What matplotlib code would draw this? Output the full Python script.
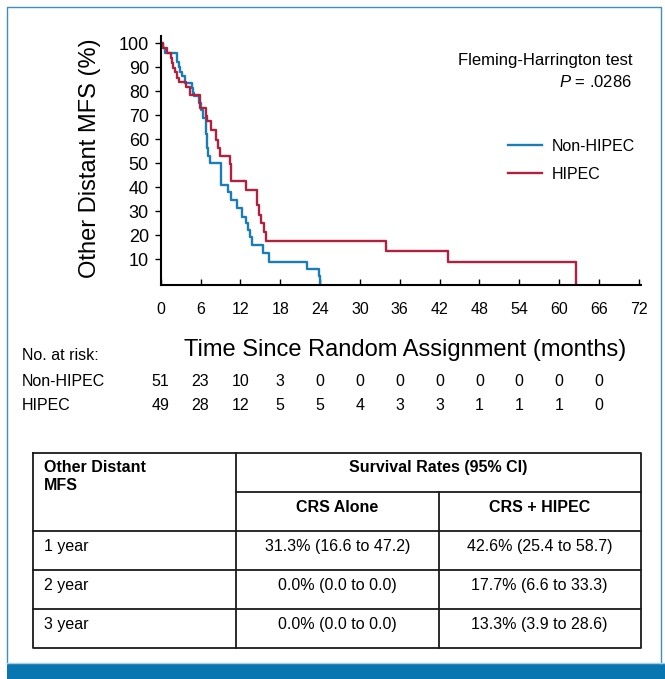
import numpy as np
import matplotlib
matplotlib.use("Agg")
import matplotlib.pyplot as plt
import matplotlib.transforms as mtransforms

# ----------------------------
# DATA
# ----------------------------
# Non-HIPEC step curve: time (months), survival (%)
nonhipec_t = [0, 0.4, 0.6, 2.5, 2.7, 2.9, 3.2, 3.6, 4.75, 4.9, 5.05, 5.8, 6.05, 6.4,
              6.75, 6.85, 6.9, 7.0, 7.15, 7.4, 9.1, 10.1, 10.6, 11.5, 12.2, 12.8,
              13.1, 13.5, 13.8, 15.4, 16.3, 22.0, 23.8, 24.0]
nonhipec_s = [100, 98.0, 96.1, 92.2, 90.2, 88.2, 86.3, 83.3, 81.4, 79.4, 78.2, 75.3,
              72.2, 68.8, 65.3, 62.0, 59.0, 56.3, 53.0, 50.0, 41.0, 38.0, 34.5, 31.3,
              27.8, 25.0, 22.2, 19.4, 16.0, 12.5, 9.0, 5.8, 3.0, 0]

# HIPEC step curve
hipec_t = [0, 0.4, 0.9, 1.6, 1.7, 1.9, 2.15, 2.4, 2.75, 3.75, 4.4, 5.9, 6.8, 7.0,
           7.6, 8.4, 8.7, 9.0, 10.4, 10.55, 12.9, 14.5, 14.8, 15.1, 15.6, 15.9,
           33.9, 43.2, 62.6]
hipec_s = [100, 98.0, 95.9, 93.9, 91.8, 89.8, 87.8, 85.7, 83.7, 81.6, 78.3, 72.9,
           69.6, 67.5, 63.9, 59.7, 56.2, 53.0, 49.5, 42.6, 38.8, 32.6, 28.5, 25.0,
           21.5, 17.7, 13.3, 8.9, 0]

x_ticks = list(range(0, 73, 6))
y_ticks = list(range(10, 101, 10))

risk_times = list(range(0, 67, 6))
risk_nonhipec = [51, 23, 10, 3, 0, 0, 0, 0, 0, 0, 0, 0]
risk_hipec = [49, 28, 12, 5, 5, 4, 3, 3, 1, 1, 1, 0]

table_rows = ["1 year", "2 year", "3 year"]
crs_alone = ["31.3% (16.6 to 47.2)", "0.0% (0.0 to 0.0)", "0.0% (0.0 to 0.0)"]
crs_hipec = ["42.6% (25.4 to 58.7)", "17.7% (6.6 to 33.3)", "13.3% (3.9 to 28.6)"]

BLUE = "#1b7db6"
RED = "#b3203e"
FRAME = "#3a8fc4"
BAND = "#0a76b1"

# ----------------------------
# FONTS
# ----------------------------
plt.rcParams["font.family"] = ["Liberation Sans", "DejaVu Sans"]
plt.rcParams["mathtext.fontset"] = "custom"
plt.rcParams["mathtext.it"] = "Liberation Sans:italic"
plt.rcParams["mathtext.rm"] = "Liberation Sans"

W, H = 665, 679
fig = plt.figure(figsize=(W / 100, H / 100), dpi=100)


def fx(px):
    return px / W


def fy(py):
    return 1 - py / H


# background overlay for frame, band and table (pixel coords)
bg = fig.add_axes([0, 0, 1, 1])
bg.set_xlim(0, W)
bg.set_ylim(H, 0)
bg.axis("off")

bg.plot([7, 7, 661, 661], [664, 7, 7, 664], color=FRAME, lw=1.0)
bg.plot([7, 665], [663, 663], color="#a8cfe6", lw=1.0)
bg.fill_between([7, 665], 664, 679, color=BAND, lw=0)

# ----------------------------
# KM PLOT
# ----------------------------
ax = fig.add_axes([fx(160.7), fy(285), fx(480), (285 - 36) / H])
ax.step(nonhipec_t, nonhipec_s, where="post", color=BLUE, lw=1.7, label="Non-HIPEC")
ax.step(hipec_t, hipec_s, where="post", color=RED, lw=1.7, label="HIPEC")

ax.set_xlim(0, 72.3)
ax.set_ylim(-0.7, 103)
ax.set_xticks(x_ticks)
ax.set_yticks(y_ticks)
ax.spines["top"].set_visible(False)
ax.spines["right"].set_visible(False)
for s in ("left", "bottom"):
    ax.spines[s].set_linewidth(1.5)
ax.tick_params(axis="x", direction="in", length=4.5, width=1.0, pad=12, labelsize=11.5)
ax.tick_params(axis="y", direction="out", length=4.5, width=1.0, pad=4, labelsize=13)

leg = ax.legend(loc="upper left", bbox_to_anchor=(fx(508), fy(139)),
                bbox_transform=fig.transFigure, frameon=False, fontsize=11.5,
                handlelength=2.1, handletextpad=0.65, labelspacing=0.8,
                borderpad=0, borderaxespad=0)

fig.text(fx(632), fy(60), "Fleming-Harrington test", ha="right", va="center", fontsize=12)
fig.text(fx(632), fy(82), r"$P$ = .0286", ha="right", va="center", fontsize=12)

fig.text(fx(90), fy(158), "Other Distant MFS (%)", rotation=90, ha="center", va="center",
         fontsize=17)
fig.text(fx(405), fy(350), "Time Since Random Assignment (months)", ha="center", va="center",
         fontsize=17)

# ----------------------------
# NUMBER AT RISK
# ----------------------------
fig.text(fx(22), fy(356), "No. at risk:", ha="left", va="center", fontsize=11.5)
fig.text(fx(22), fy(381), "Non-HIPEC", ha="left", va="center", fontsize=11.5)
fig.text(fx(22), fy(406), "HIPEC", ha="left", va="center", fontsize=11.5)

risk_tr = mtransforms.blended_transform_factory(ax.transData, fig.transFigure)
for t, a, b in zip(risk_times, risk_nonhipec, risk_hipec):
    ax.text(t, fy(381), str(a), transform=risk_tr, ha="center", va="center",
            fontsize=11.5, clip_on=False)
    ax.text(t, fy(406), str(b), transform=risk_tr, ha="center", va="center",
            fontsize=11.5, clip_on=False)

# ----------------------------
# SURVIVAL TABLE
# ----------------------------
L, C1, C2, R = 33.3, 236, 438.5, 640.5
T, SUB, R1, R2, R3, B = 453.3, 492, 531, 570, 609, 648
tkw = dict(color="#1a1a1a", lw=1.3, solid_capstyle="projecting")
bg.plot([L, R, R, L, L], [T, T, B, B, T], **tkw)
bg.plot([C1, C1], [T, B], **tkw)
bg.plot([C2, C2], [SUB, B], **tkw)
bg.plot([C1, R], [SUB, SUB], **tkw)
for yy in (R1, R2, R3):
    bg.plot([L, R], [yy, yy], **tkw)

bg.text(44.3, 472, "Other Distant", ha="left", va="baseline", fontsize=11.5, weight="bold")
bg.text(44.3, 490, "MFS", ha="left", va="baseline", fontsize=11.5, weight="bold")
bg.text((C1 + R) / 2, 472, "Survival Rates (95% CI)", ha="center", va="baseline",
        fontsize=11.5, weight="bold")
bg.text((C1 + C2) / 2, 512, "CRS Alone", ha="center", va="baseline", fontsize=11.5, weight="bold")
bg.text((C2 + R) / 2, 512, "CRS + HIPEC", ha="center", va="baseline", fontsize=11.5, weight="bold")

for base, lab, a, b in zip((551, 590, 629), table_rows, crs_alone, crs_hipec):
    bg.text(44.3, base, lab, ha="left", va="baseline", fontsize=11.5)
    bg.text((C1 + C2) / 2, base, a, ha="center", va="baseline", fontsize=11.5)
    bg.text((C2 + R) / 2, base, b, ha="center", va="baseline", fontsize=11.5)

fig.savefig("out.png", dpi=100)
